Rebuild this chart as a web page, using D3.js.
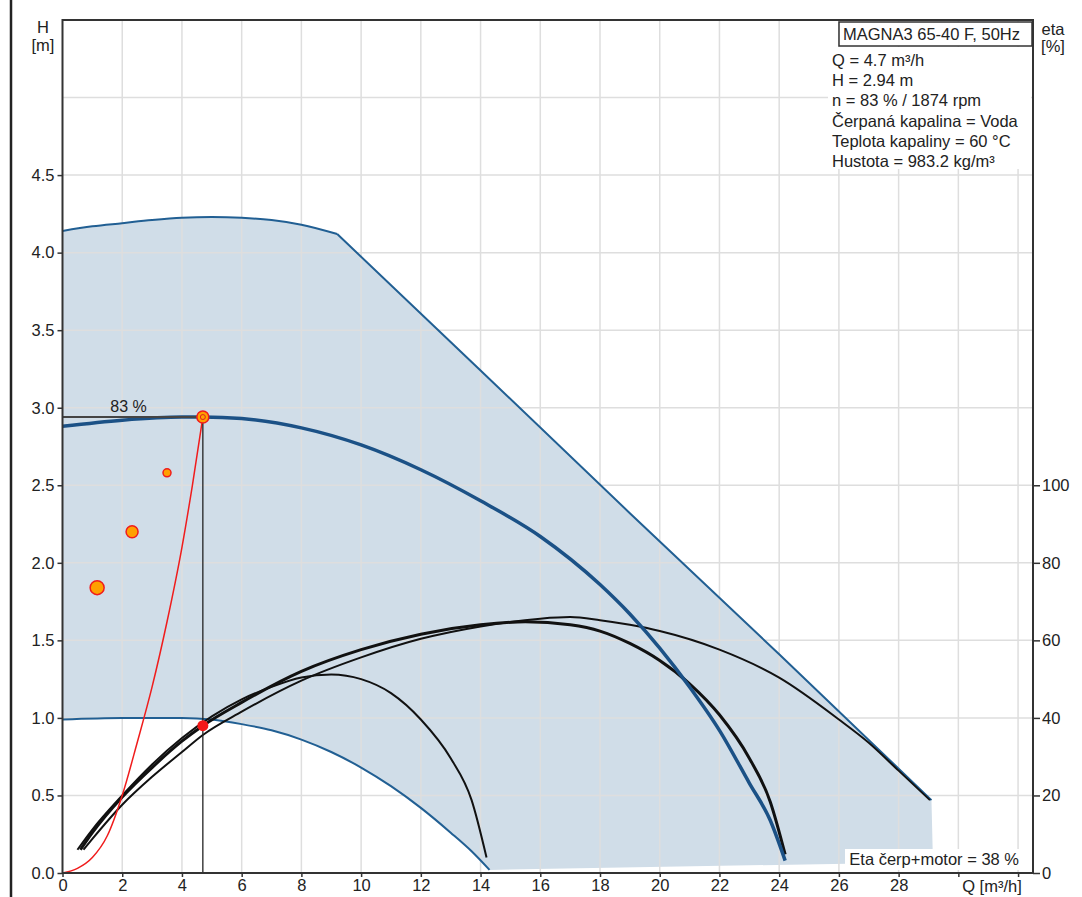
<!doctype html>
<html>
<head>
<meta charset="UTF-8">
<script src="https://d3js.org/d3.v7.min.js"></script>
<style>
  body { margin: 0; background: #fff; }
  text { font-family: "Liberation Sans", Arial, sans-serif; fill: #222; }
</style>
</head>
<body>
<div id="graph"></div>
<script>
// ---- data ----
var xTicks = [0,2,4,6,8,10,12,14,16,18,20,22,24,26,28,30,32];
var yTicks = [0,0.5,1,1.5,2,2.5,3,3.5,4,4.5];
var etaTicks = [0,20,40,60,80,100];

// max speed curve (top) and straight drop to the right end
var maxQ = [0,1,2,3,4,5,6,7,8,9.2,14,19,24,29.1];
var maxH = [4.14,4.17,4.19,4.21,4.225,4.23,4.225,4.21,4.18,4.12,3.24,2.32,1.41,0.47];
// min speed curve
var minQ = [0,2,4,5,6,7,8,9,10,11,12,13,13.7,14.3];
var minH = [0.99,1.0,1.0,0.99,0.96,0.92,0.86,0.78,0.68,0.56,0.42,0.26,0.14,0.02];
// bottom edge of the working area
var edgeQ = [29.15,14.3];
var edgeH = [0.07,0.02];
// operating curve, 83 %
var opQ = [0,2,4,4.7,6,8,10,12,14,16,18,19,20,21,22,23,23.7,24.2];
var opH = [2.88,2.92,2.94,2.94,2.93,2.87,2.76,2.6,2.4,2.17,1.86,1.67,1.45,1.2,0.92,0.58,0.34,0.08];

// efficiency curves (eta %)
var etaMinQ = [0.5,1,2,3,4,5,6,7,8,9,10,11,12,13,13.7,14.2];
var etaMin  = [6,11.2,20,28,34.8,40.4,44.8,48,50.4,51.2,50,46.4,39.6,29.6,18.8,4];
var etaOpQ  = [0.6,1,2,3,4,4.7,6,8,10,12,14,15.5,17,18,19,20,21,22,23,23.7,24.2];
var etaOp   = [6,10.4,19.6,27.2,34,38,44,52,57.6,61.6,64,64.8,64,62.4,59.2,54.8,48.8,40.8,29.6,18.4,4.8];
var etaMaxQ = [0.7,1,2,3,4,4.7,6,8,10,12,14,16,17,18,19,20,22,24,26,27,28,29.05];
var etaMax  = [6,8.8,17.6,24.8,31.2,35.6,41.6,49.6,55.6,60.4,63.6,65.6,66,65.2,64,62.4,57.6,50.4,39.6,33.6,26.4,18.8];

// control curve (red)
var ctrlQ = [0,0.5,1,1.5,2,2.5,3,3.5,4,4.35,4.7];
var ctrlH = [0,0.03,0.1,0.24,0.5,0.84,1.2,1.62,2.1,2.5,2.94];

// earlier points of the duty (orange dots)
var dotQ = [1.16,2.33,3.5];
var dotH = [1.84,2.2,2.58];
var dotR = [7,6,4];

var dutyQ = 4.7, dutyH = 2.94, dutyEta = 38;

var infoLines = ["Q = 4.7 m³/h","H = 2.94 m","n = 83 % / 1874 rpm",
                 "Čerpaná kapalina = Voda","Teplota kapaliny = 60 °C","Hustota = 983.2 kg/m³"];

// ---- drawing ----
var w = 1082, h = 897;
var svg = d3.select("#graph").append("svg").attr("width", w).attr("height", h);

var x = d3.scaleLinear().domain([0,32.5]).range([62.5,1033]);
var y = d3.scaleLinear().domain([0,5.5]).range([873,20]);
var yEta = d3.scaleLinear().domain([0,220]).range([873,20]);

function pts(qs, hs) { return qs.map(function(q,i){ return [q, hs[i]]; }); }

var line = d3.line().x(function(d){return x(d[0]);}).y(function(d){return y(d[1]);}).curve(d3.curveMonotoneX);
var lineEta = d3.line().x(function(d){return x(d[0]);}).y(function(d){return yEta(d[1]);}).curve(d3.curveMonotoneX);

// page border line
svg.append("line").attr("x1",11).attr("x2",11).attr("y1",0).attr("y2",h)
   .style("stroke","#222").style("stroke-width",2.5);

// working area fill
var area = pts(maxQ,maxH).concat(pts(edgeQ,edgeH)).concat(pts(minQ,minH).reverse());
svg.append("path")
   .attr("d", d3.line().x(function(d){return x(d[0]);}).y(function(d){return y(d[1]);}).curve(d3.curveLinear)(area))
   .style("fill","#d0dde8").style("stroke","none");

// grid
svg.append("g").selectAll("line").data(xTicks.filter(function(d){return d>0;})).enter().append("line")
   .attr("x1",function(d){return x(d);}).attr("x2",function(d){return x(d);})
   .attr("y1",y(0)).attr("y2",y(5.5))
   .style("stroke","#dedede").style("stroke-width",1.5);
svg.append("g").selectAll("line").data([0.5,1,1.5,2,2.5,3,3.5,4,4.5,5]).enter().append("line")
   .attr("x1",x(0)).attr("x2",x(32.5))
   .attr("y1",function(d){return y(d);}).attr("y2",function(d){return y(d);})
   .style("stroke","#dedede").style("stroke-width",1.5);

// blue curves
svg.append("path").attr("d", line(pts(maxQ.slice(0,10),maxH.slice(0,10))))
   .style("fill","none").style("stroke","#215f93").style("stroke-width",2);
svg.append("path").attr("d", d3.line().x(function(d){return x(d[0]);}).y(function(d){return y(d[1]);})(pts(maxQ.slice(9),maxH.slice(9))))
   .style("fill","none").style("stroke","#215f93").style("stroke-width",2);
svg.append("path").attr("d", line(pts(minQ,minH)))
   .style("fill","none").style("stroke","#215f93").style("stroke-width",2);

// efficiency curves
svg.append("path").attr("d", lineEta(pts(etaMinQ,etaMin)))
   .style("fill","none").style("stroke","#111").style("stroke-width",2);
svg.append("path").attr("d", lineEta(pts(etaMaxQ,etaMax)))
   .style("fill","none").style("stroke","#111").style("stroke-width",2);
svg.append("path").attr("d", lineEta(pts(etaOpQ,etaOp)))
   .style("fill","none").style("stroke","#111").style("stroke-width",3);

// operating curve
svg.append("path").attr("d", line(pts(opQ,opH)))
   .style("fill","none").style("stroke","#1b5186").style("stroke-width",3.5);

// control curve
svg.append("path").attr("d", line(pts(ctrlQ,ctrlH)))
   .style("fill","none").style("stroke","#f01c1c").style("stroke-width",1.5);

// duty lines
svg.append("line").attr("x1",x(0)).attr("x2",x(dutyQ)).attr("y1",y(dutyH)).attr("y2",y(dutyH))
   .style("stroke","#444").style("stroke-width",2);
svg.append("line").attr("x1",x(dutyQ)).attr("x2",x(dutyQ)).attr("y1",y(dutyH)).attr("y2",y(0))
   .style("stroke","#222").style("stroke-width",1.3);
svg.append("text").attr("x",x(1.6)).attr("y",y(dutyH)-5).style("font-size","16px").text("83 %");

// dots
svg.append("g").selectAll("circle").data(dotQ).enter().append("circle")
   .attr("cx",function(d){return x(d);})
   .attr("cy",function(d,i){return y(dotH[i]);})
   .attr("r",function(d,i){return dotR[i];})
   .style("fill","#ffa000").style("stroke","#f01c1c").style("stroke-width",1.5);
svg.append("circle").attr("cx",x(dutyQ)).attr("cy",y(dutyH)).attr("r",6)
   .style("fill","#ffa000").style("stroke","#f01c1c").style("stroke-width",1.5);
svg.append("circle").attr("cx",x(dutyQ)).attr("cy",y(dutyH)).attr("r",2.5)
   .style("fill","none").style("stroke","#e02020").style("stroke-width",1);
svg.append("circle").attr("cx",x(dutyQ)).attr("cy",yEta(dutyEta)).attr("r",5.5)
   .style("fill","#f41818");

// frame
svg.append("rect").attr("x",x(0)).attr("y",y(5.5)).attr("width",x(32.5)-x(0)).attr("height",y(0)-y(5.5))
   .style("fill","none").style("stroke","#333").style("stroke-width",2);

// axes
var axL = svg.append("g").attr("transform","translate("+x(0)+",0)")
   .call(d3.axisLeft(y).tickValues(yTicks).tickFormat(d3.format(".1f")).tickSize(5).tickPadding(3));
var axB = svg.append("g").attr("transform","translate(0,"+y(0)+")")
   .call(d3.axisBottom(x).tickValues(xTicks).tickFormat(function(d){return d<=28 ? d : "";}).tickSize(4).tickPadding(2));
var axR = svg.append("g").attr("transform","translate("+x(32.5)+",0)")
   .call(d3.axisRight(yEta).tickValues(etaTicks).tickSize(7).tickPadding(2));
[axL,axB,axR].forEach(function(a){
  a.select(".domain").remove();
  a.selectAll("line").style("stroke","#333").style("stroke-width",1.5);
  a.selectAll("text").style("font-size","16.5px").style("font-family","'Liberation Sans', Arial, sans-serif").style("fill","#222");
});

// axis titles
svg.append("text").attr("x",43).attr("y",33).attr("text-anchor","middle").style("font-size","16.5px").text("H");
svg.append("text").attr("x",43).attr("y",51).attr("text-anchor","middle").style("font-size","16.5px").text("[m]");
svg.append("text").attr("x",1053).attr("y",35).attr("text-anchor","middle").style("font-size","16.5px").text("eta");
svg.append("text").attr("x",1053).attr("y",52).attr("text-anchor","middle").style("font-size","16.5px").text("[%]");
svg.append("text").attr("x",992).attr("y",892).attr("text-anchor","middle").style("font-size","16.5px").text("Q [m³/h]");

// legend
svg.append("rect").attr("x",828).attr("y",47).attr("width",203).attr("height",122).style("fill","#fff");
svg.append("rect").attr("x",839).attr("y",22).attr("width",193).attr("height",24)
   .style("fill","#fff").style("stroke","#333").style("stroke-width",1.5);
svg.append("text").attr("x",843).attr("y",40).style("font-size","16.5px").text("MAGNA3 65-40 F, 50Hz");
svg.append("g").selectAll("text").data(infoLines).enter().append("text")
   .attr("x",832).attr("y",function(d,i){return 66+i*20.2;})
   .style("font-size","16.5px").text(function(d){return d;});

// bottom note
svg.append("rect").attr("x",845).attr("y",849).attr("width",178).attr("height",21).style("fill","#fff");
svg.append("text").attr("x",1019).attr("y",865).attr("text-anchor","end").style("font-size","16.5px")
   .text("Eta čerp+motor = " + dutyEta + " %");
</script>
</body>
</html>
